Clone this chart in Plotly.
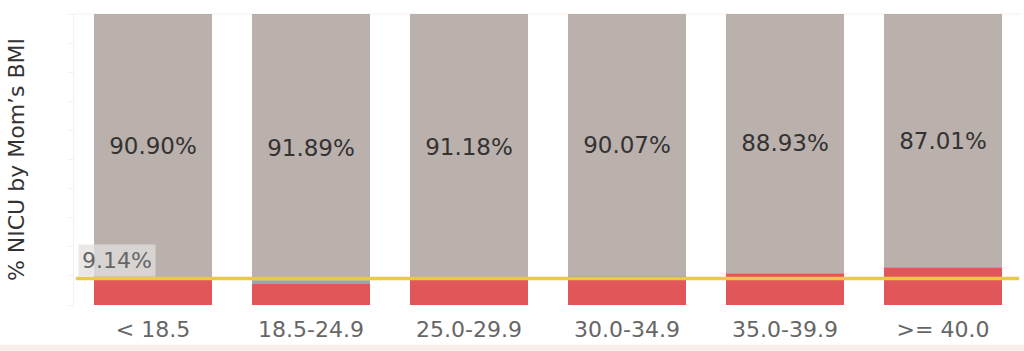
import plotly.graph_objects as go

categories = ["< 18.5", "18.5-24.9", "25.0-29.9", "30.0-34.9", "35.0-39.9", ">= 40.0"]
nicu_yes = [9.02, 7.25, 8.60, 9.80, 10.80, 12.75]
nicu_unknown = [0.08, 0.86, 0.22, 0.13, 0.27, 0.24]
nicu_no = [90.90, 91.89, 91.18, 90.07, 88.93, 87.01]
average = 9.14

FONT = "DejaVu Sans"

fig = go.Figure()
fig.add_trace(go.Bar(x=categories, y=nicu_yes, marker_color="#E15759",
                     marker_line_width=0, width=0.75, hoverinfo="skip"))
fig.add_trace(go.Bar(x=categories, y=nicu_unknown, marker_color="#93A9A9",
                     marker_line_width=0, width=0.75, hoverinfo="skip"))
fig.add_trace(go.Bar(x=categories, y=nicu_no, marker_color="#BAB0AC",
                     marker_line_width=0, width=0.75,
                     text=[f"{v:.2f}%" for v in nicu_no], textposition="inside",
                     insidetextanchor="middle", constraintext="none",
                     textfont=dict(family=FONT, size=23, color="#333333"),
                     hoverinfo="skip"))

fig.add_shape(type="line", xref="paper", yref="y", x0=0.002, x1=0.997,
              y0=average, y1=average, line=dict(color="#E9C84A", width=3.5))
fig.add_annotation(xref="paper", yref="y", x=0.004, y=average, xanchor="left",
                   yanchor="bottom", yshift=1, text=f"{average:.2f}%",
                   showarrow=False, bgcolor="rgba(226,224,223,0.75)",
                   borderpad=3,
                   font=dict(family=FONT, size=22, color="#666666"))

fig.update_layout(
    barmode="stack",
    width=1024, height=351,
    margin=dict(l=74, r=2, t=14, b=46),
    paper_bgcolor="white", plot_bgcolor="white",
    showlegend=False,
    bargap=0.25,
    font=dict(family=FONT),
)
fig.update_xaxes(
    showgrid=False, zeroline=False, showline=False,
    tickfont=dict(family=FONT, size=22, color="#666666"),
    ticks="", ticklabelstandoff=9,
)
fig.update_yaxes(
    range=[0, 100], showgrid=False, zeroline=False,
    showline=True, linecolor="#F2F2F2", linewidth=1,
    showticklabels=False, ticks="outside", ticklen=4, tickcolor="#EEEEEE",
    dtick=10,
    title=dict(text="% NICU by Mom’s BMI", standoff=38,
               font=dict(family=FONT, size=22, color="#333333")),
)
# bottom pink band
fig.add_shape(type="rect", xref="paper", yref="paper", x0=-0.08, x1=1.01,
              y0=-0.137, y1=-0.2, fillcolor="#FCEDE8", line_width=0, layer="below")
fig.add_shape(type="line", xref="paper", yref="paper", x0=0, x1=1,
              y0=1, y1=1, line=dict(color="#F5F0EE", width=1), layer="below")

fig.write_html("out.html")
